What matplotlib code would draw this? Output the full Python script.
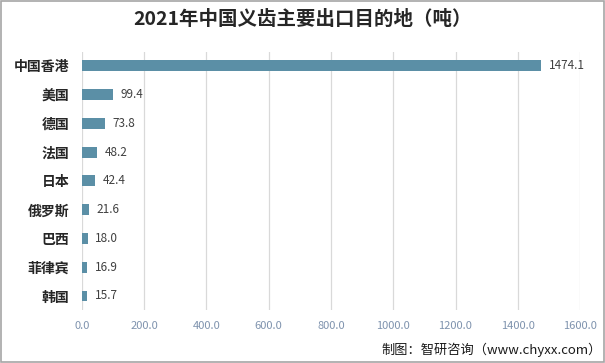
import matplotlib
matplotlib.use("Agg")
import matplotlib.pyplot as plt
from matplotlib.patches import Rectangle

plt.rcParams['font.family'] = ['Noto Sans CJK SC', 'DejaVu Sans']

categories = ["中国香港", "美国", "德国", "法国", "日本", "俄罗斯", "巴西", "菲律宾", "韩国"]
values = [1474.1, 99.4, 73.8, 48.2, 42.4, 21.6, 18.0, 16.9, 15.7]
xticks = [0, 200, 400, 600, 800, 1000, 1200, 1400, 1600]

fig = plt.figure(figsize=(6.05, 3.63), dpi=100)
ax = fig.add_axes([0.1355, 0.145, 0.8232, 0.713])

y = list(range(len(categories)))
ax.barh(y, values, height=0.38, color="#5B8FA6", zorder=3)
ax.set_ylim(len(categories) - 0.5, -0.5)
ax.set_xlim(0, 1600)
ax.set_xticks(xticks)
ax.set_xticklabels([f"{v:.1f}" for v in xticks], fontsize=8, color="#7F93AE")
ax.set_yticks(y)
ax.set_yticklabels(categories, fontsize=10, fontweight="bold", color="#262626")
ax.tick_params(axis="both", length=0)
ax.tick_params(axis="y", pad=9)
ax.tick_params(axis="x", pad=8)
ax.grid(axis="x", color="#D9D9D9", linewidth=0.9, zorder=0)
for s in ax.spines.values():
    s.set_visible(False)

for yi, v in zip(y, values):
    ax.text(v + 25, yi, f"{v:.1f}", va="center", ha="left", fontsize=8.5, color="#404040")

fig.text(0.5, 0.945, "2021年中国义齿主要出口目的地（吨）", ha="center", va="center",
         fontsize=14, fontweight="bold", color="#262626")
fig.text(0.995, 0.035, "制图：智研咨询（www.chyxx.com）", ha="right", va="center",
         fontsize=9.5, color="#1a1a1a")

fig.patches.append(Rectangle((0.001, 0.002), 0.997, 0.995, transform=fig.transFigure,
                             fill=False, edgecolor="#A6A6A6", linewidth=1.2))

fig.savefig("out.png", dpi=100)
